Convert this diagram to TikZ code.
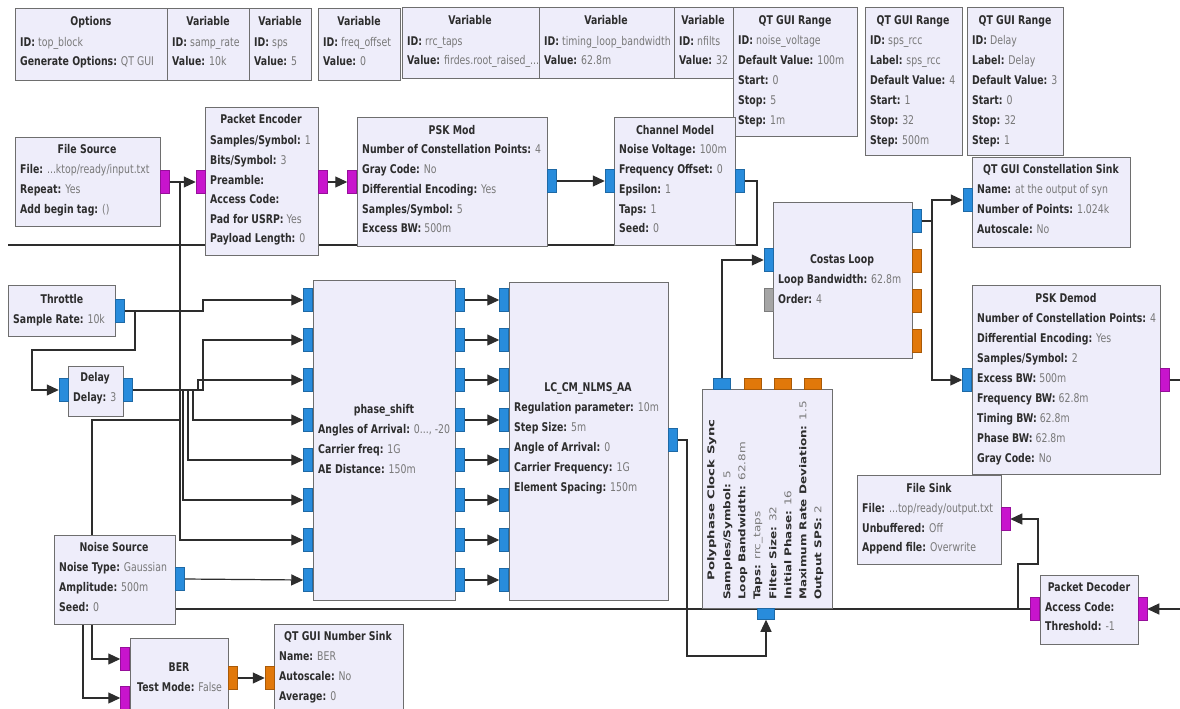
\documentclass[tikz,border=0pt]{standalone}
\usepackage{fontspec}
\setmainfont{DejaVu Sans}
\usepackage{graphicx}
\usetikzlibrary{arrows.meta,calc}

\definecolor{blkfill}{RGB}{238,237,250}
\definecolor{blkline}{RGB}{110,110,110}
\definecolor{keyc}{RGB}{45,45,45}
\definecolor{valc}{RGB}{120,120,120}
\definecolor{pblue}{RGB}{40,140,220}
\definecolor{pmag}{RGB}{200,20,205}
\definecolor{porange}{RGB}{225,120,10}
\definecolor{pgray}{RGB}{165,165,165}
\definecolor{wirec}{RGB}{45,45,45}

\pgfdeclarelayer{wires}
\pgfsetlayers{wires,main}

% narrow horizontal text, flattened rotated text
\newcommand\sq[1]{\scalebox{0.78}[1]{#1}}
\newcommand\sqv[1]{\scalebox{1}[0.78]{#1}}

\tikzset{
  blk/.style={draw=blkline, fill=blkfill, line width=1.1pt, inner sep=0pt, anchor=north west},
  ttlst/.style={inner sep=0pt, text=keyc, font=\fontsize{12}{14}\selectfont\bfseries, text height=9pt, text depth=2.5pt},
  prmst/.style={inner sep=0pt, anchor=west, text=valc, font=\fontsize{12}{14}\selectfont, text height=9pt, text depth=2.5pt},
  port/.style={draw=#1!75!black, fill=#1, line width=0.5pt, inner sep=0pt, minimum width=9pt, minimum height=23pt},
  vport/.style={port=#1, minimum width=17pt, minimum height=11pt},
  wire/.style={draw=wirec, line width=1.2pt},
  arr/.style={wire, -{Triangle[length=12pt,width=11pt]}},
}

% block box: name, x1, y1, x2, y2 (y measured downwards)
\newcommand\blk[5]{%
  \pgfmathsetmacro\bw{#4-#2}\pgfmathsetmacro\bh{#5-#3}%
  \node[blk, minimum width=\bw pt, minimum height=\bh pt] (#1) at (#2,-#3) {};}
% title: name, x centre, y, text
\newcommand\ttl[4]{\node[ttlst] (#1) at (#2,-#3) {\sq{#4}};}
% parameter line: name, x left, y, key, value
\newcommand\prm[5]{\node[prmst] (#1) at (#2,-#3) {\sq{\textbf{\color{keyc}#4} #5}};}
% rotated parameter line: name, x, y bottom, key, value
\newcommand\vprm[5]{\node[prmst, rotate=90] (#1) at (#2,-#3) {\sqv{\textbf{\color{keyc}#4} #5}};}

\begin{document}
\begin{tikzpicture}[x=1pt,y=1pt]
\useasboundingbox (0,0) rectangle (1180,-709);
\begin{pgfonlayer}{wires}
  \fill[white] (0,0) rectangle (1180,-709);
\end{pgfonlayer}

% ---------------- variables and options ----------------
\blk{opt}{15}{8}{167}{80}
\ttl{optt}{91}{22}{Options}
\prm{opt1}{20}{43}{ID:}{top\_block}
\prm{opt2}{20}{62}{Generate Options:}{QT GUI}

\blk{vsr}{167}{8}{249}{80}
\ttl{vsrt}{208}{22}{Variable}
\prm{vsr1}{172}{43}{ID:}{samp\_rate}
\prm{vsr2}{172}{62}{Value:}{10k}

\blk{vsp}{249}{8}{311}{80}
\ttl{vspt}{280}{22}{Variable}
\prm{vsp1}{254}{43}{ID:}{sps}
\prm{vsp2}{254}{62}{Value:}{5}

\blk{vfo}{318}{8}{400}{80}
\ttl{vfot}{359}{22}{Variable}
\prm{vfo1}{323}{43}{ID:}{freq\_offset}
\prm{vfo2}{323}{62}{Value:}{0}

\blk{vrt}{402}{7}{539}{78}
\ttl{vrtt}{470}{21}{Variable}
\prm{vrt1}{407}{42}{ID:}{rrc\_taps}
\prm{vrt2}{407}{61}{Value:}{firdes.root\_raised\_...}

\blk{vtl}{539}{7}{674}{78}
\ttl{vtlt}{606}{21}{Variable}
\prm{vtl1}{544}{42}{ID:}{timing\_loop\_bandwidth}
\prm{vtl2}{544}{61}{Value:}{62.8m}

\blk{vnf}{674}{7}{733}{78}
\ttl{vnft}{703}{21}{Variable}
\prm{vnf1}{679}{42}{ID:}{nfilts}
\prm{vnf2}{679}{61}{Value:}{32}

\blk{rnv}{733}{7}{857}{136}
\ttl{rnvt}{795}{21}{QT GUI Range}
\prm{rnv1}{738}{41}{ID:}{noise\_voltage}
\prm{rnv2}{738}{61}{Default Value:}{100m}
\prm{rnv3}{738}{81}{Start:}{0}
\prm{rnv4}{738}{101}{Stop:}{5}
\prm{rnv5}{738}{121}{Step:}{1m}

\blk{rsr}{865}{7}{962}{155}
\ttl{rsrt}{913}{21}{QT GUI Range}
\prm{rsr1}{870}{41}{ID:}{sps\_rcc}
\prm{rsr2}{870}{61}{Label:}{sps\_rcc}
\prm{rsr3}{870}{81}{Default Value:}{4}
\prm{rsr4}{870}{101}{Start:}{1}
\prm{rsr5}{870}{121}{Stop:}{32}
\prm{rsr6}{870}{141}{Step:}{500m}

\blk{rdl}{967}{7}{1063}{155}
\ttl{rdlt}{1015}{21}{QT GUI Range}
\prm{rdl1}{972}{41}{ID:}{Delay}
\prm{rdl2}{972}{61}{Label:}{Delay}
\prm{rdl3}{972}{81}{Default Value:}{3}
\prm{rdl4}{972}{101}{Start:}{0}
\prm{rdl5}{972}{121}{Stop:}{32}
\prm{rdl6}{972}{141}{Step:}{1}

% ---------------- transmitter chain ----------------
\blk{fs}{15}{137}{160}{226}
\ttl{fst}{87}{150}{File Source}
\prm{fs1}{20}{170}{File:}{...ktop/ready/input.txt}
\prm{fs2}{20}{190}{Repeat:}{Yes}
\prm{fs3}{20}{210}{Add begin tag:}{()}
\node[port=pmag] (fso) at (165,-182) {};

\blk{pe}{205}{107}{318}{255}
\ttl{pet}{261}{120}{Packet Encoder}
\prm{pe1}{210}{141}{Samples/Symbol:}{1}
\prm{pe2}{210}{161}{Bits/Symbol:}{3}
\prm{pe3}{210}{181}{Preamble:}{}
\prm{pe4}{210}{200}{Access Code:}{}
\prm{pe5}{210}{220}{Pad for USRP:}{Yes}
\prm{pe6}{210}{239}{Payload Length:}{0}
\node[port=pmag] (pei) at (200.5,-182) {};
\node[port=pmag] (peo) at (322.5,-182) {};

\blk{pm}{357}{117}{547}{246}
\ttl{pmt}{452}{131}{PSK Mod}
\prm{pm1}{362}{150}{Number of Constellation Points:}{4}
\prm{pm2}{362}{170}{Gray Code:}{No}
\prm{pm3}{362}{190}{Differential Encoding:}{Yes}
\prm{pm4}{362}{210}{Samples/Symbol:}{5}
\prm{pm5}{362}{229}{Excess BW:}{500m}
\node[port=pmag] (pmi) at (352,-182) {};
\node[port=pblue] (pmo) at (551.5,-181) {};

\blk{ch}{614}{117}{735}{245}
\ttl{cht}{675}{131}{Channel Model}
\prm{ch1}{619}{150}{Noise Voltage:}{100m}
\prm{ch2}{619}{170}{Frequency Offset:}{0}
\prm{ch3}{619}{190}{Epsilon:}{1}
\prm{ch4}{619}{210}{Taps:}{1}
\prm{ch5}{619}{229}{Seed:}{0}
\node[port=pblue] (chi) at (609.5,-181) {};
\node[port=pblue] (cho) at (739.5,-181) {};

% ---------------- array front end ----------------
\blk{thr}{8}{285}{115}{336}
\ttl{thrt}{62}{300}{Throttle}
\prm{thr1}{13}{320}{Sample Rate:}{10k}
\node[port=pblue] (tho) at (120,-311) {};

\blk{dl}{68}{366}{123}{416}
\ttl{dlt}{95}{378}{Delay}
\prm{dl1}{73}{398}{Delay:}{3}
\node[port=pblue] (dli) at (63.5,-390) {};
\node[port=pblue] (dlo) at (128,-390) {};

\blk{ps}{313}{280}{455}{600}
\ttl{pst}{384}{410}{phase\_shift}
\prm{ps1}{318}{430}{Angles of Arrival:}{0..., -20}
\prm{ps2}{318}{450}{Carrier freq:}{1G}
\prm{ps3}{318}{470}{AE Distance:}{150m}

\blk{lc}{509}{282}{668}{600}
\ttl{lct}{588}{388}{LC\_CM\_NLMS\_AA}
\prm{lc1}{514}{408}{Regulation parameter:}{10m}
\prm{lc2}{514}{428}{Step Size:}{5m}
\prm{lc3}{514}{448}{Angle of Arrival:}{0}
\prm{lc4}{514}{468}{Carrier Frequency:}{1G}
\prm{lc5}{514}{488}{Element Spacing:}{150m}
\node[port=pblue] (lco) at (672.5,-440) {};

\foreach \k in {1,...,8}{
  \node[port=pblue] (psi\k) at (308,{-260-40*\k}) {};
  \node[port=pblue] (pso\k) at (460,{-260-40*\k}) {};
  \node[port=pblue] (lci\k) at (504,{-260-40*\k}) {};
}

\blk{ns}{54}{535}{175}{624}
\ttl{nst}{114}{548}{Noise Source}
\prm{ns1}{59}{568}{Noise Type:}{Gaussian}
\prm{ns2}{59}{588}{Amplitude:}{500m}
\prm{ns3}{59}{608}{Seed:}{0}
\node[port=pblue] (nso) at (179.5,-579) {};

\blk{ber}{130}{638}{228}{722}
\ttl{bert}{179}{668}{BER}
\prm{ber1}{137}{688}{Test Mode:}{False}
\node[port=pmag] (beri1) at (125,-659) {};
\node[port=pmag] (beri2) at (125,-698) {};
\node[port=porange] (bero) at (233,-678) {};

\blk{nb}{274}{624}{403}{722}
\ttl{nbt}{338}{637}{QT GUI Number Sink}
\prm{nb1}{279}{657}{Name:}{BER}
\prm{nb2}{279}{677}{Autoscale:}{No}
\prm{nb3}{279}{697}{Average:}{0}
\node[port=porange] (nbi) at (269.5,-678) {};

% ---------------- receiver ----------------
\blk{pc}{702}{389}{832}{608}
\node[ttlst, rotate=90] (pct) at (711,-500) {\scalebox{1.1}[0.78]{Polyphase Clock Sync}};
\vprm{pc1}{727}{600}{Samples/Symbol:}{5}
\vprm{pc2}{742}{600}{Loop Bandwidth:}{62.8m}
\vprm{pc3}{757}{600}{Taps:}{rrc\_taps}
\vprm{pc4}{773}{600}{Filter Size:}{32}
\vprm{pc5}{788}{600}{Initial Phase:}{16}
\vprm{pc6}{803}{600}{Maximum Rate Deviation:}{1.5}
\vprm{pc7}{818}{600}{Output SPS:}{2}
\node[vport=pblue] (pco) at (722,-383.5) {};
\node[vport=porange] (pcx1) at (752.5,-383.5) {};
\node[vport=porange] (pcx2) at (782.5,-383.5) {};
\node[vport=porange] (pcx3) at (812.5,-383.5) {};
\node[vport=pblue] (pci) at (766,-614) {};

\blk{cs}{773}{202}{912}{358}
\ttl{cst}{842}{260}{Costas Loop}
\prm{cs1}{778}{280}{Loop Bandwidth:}{62.8m}
\prm{cs2}{778}{300}{Order:}{4}
\node[port=pblue] (csi) at (768.5,-260) {};
\node[port=pgray] (csg) at (768.5,-300) {};
\node[port=pblue] (cso) at (916.5,-221) {};
\node[port=porange] (csx1) at (916.5,-261) {};
\node[port=porange] (csx2) at (916.5,-301) {};
\node[port=porange] (csx3) at (916.5,-341) {};

\blk{cn}{972}{157}{1130}{247}
\ttl{cnt}{1051}{170}{QT GUI Constellation Sink}
\prm{cn1}{977}{190}{Name:}{at the output of syn}
\prm{cn2}{977}{210}{Number of Points:}{1.024k}
\prm{cn3}{977}{230}{Autoscale:}{No}
\node[port=pblue] (cni) at (967.5,-200) {};

\blk{pd}{972}{285}{1160}{474}
\ttl{pdt}{1066}{299}{PSK Demod}
\prm{pd1}{977}{319}{Number of Constellation Points:}{4}
\prm{pd2}{977}{339}{Differential Encoding:}{Yes}
\prm{pd3}{977}{359}{Samples/Symbol:}{2}
\prm{pd4}{977}{379}{Excess BW:}{500m}
\prm{pd5}{977}{399}{Frequency BW:}{62.8m}
\prm{pd6}{977}{419}{Timing BW:}{62.8m}
\prm{pd7}{977}{439}{Phase BW:}{62.8m}
\prm{pd8}{977}{459}{Gray Code:}{No}
\node[port=pblue] (pdi) at (967,-380) {};
\node[port=pmag] (pdo) at (1164.5,-380) {};

\blk{fk}{857}{475}{1001}{564}
\ttl{fkt}{929}{489}{File Sink}
\prm{fk1}{862}{509}{File:}{...top/ready/output.txt}
\prm{fk2}{862}{529}{Unbuffered:}{Off}
\prm{fk3}{862}{548}{Append file:}{Overwrite}
\node[port=pmag] (fki) at (1005.5,-519) {};

\blk{dc}{1040}{575}{1138}{644}
\ttl{dct}{1089}{588}{Packet Decoder}
\prm{dc1}{1045}{608}{Access Code:}{}
\prm{dc2}{1045}{627}{Threshold:}{-1}
\node[port=pmag] (dco) at (1035,-609) {};
\node[port=pmag] (dci) at (1142.5,-609) {};

% ---------------- connections ----------------
\begin{pgfonlayer}{wires}
  % file source to encoder, BER and array input 7
  \coordinate (j1) at (180,-182);
  \coordinate (j2) at (180,-420);
  \coordinate (b1) at (92,-420);
  \draw[arr] (fso.east) -- (pei.west);
  \draw[arr] (j1) |- (psi7.west);
  \draw[arr] (j2) -- (b1) |- (beri1.west);

  \draw[arr] (peo.east) -- (pmi.west);
  \draw[arr] (pmo.east) -- (chi.west);

  % channel output runs back towards the left
  \coordinate (h1) at (757,-181);
  \coordinate (h2) at (757,-245);
  \coordinate (h3) at (8,-245);
  \draw[wire] (cho.east) -- (h1) -- (h2) -- (h3);

  % throttle output
  \coordinate (t1) at (203,-311);
  \coordinate (t2) at (135,-311);
  \coordinate (t3) at (135,-350);
  \coordinate (t4) at (32,-350);
  \draw[arr] (tho.east) -- (t1) |- (psi1.west);
  \draw[arr] (t2) -- (t3) -- (t4) |- (dli.west);

  % delay output fans out to inputs 2..6
  \coordinate (d1) at (203,-390);
  \coordinate (d2) at (198,-390);
  \coordinate (d3) at (193,-390);
  \coordinate (d4) at (188,-390);
  \coordinate (d5) at (183,-390);
  \draw[arr] (dlo.east) -- (d1) |- (psi2.west);
  \draw[arr] (d2) |- (psi3.west);
  \draw[arr] (d3) |- (psi4.west);
  \draw[arr] (d4) |- (psi5.west);
  \draw[arr] (d5) |- (psi6.west);

  \draw[arr] (nso.east) -- (psi8.west);

  \foreach \k in {1,...,8}{
    \draw[arr] (pso\k.east) -- (lci\k.west);
  }

  % array output to clock recovery
  \coordinate (l1) at (687,-440);
  \coordinate (l2) at (687,-656);
  \draw[arr] (lco.east) -- (l1) -- (l2) -| (pci.south);

  \draw[arr] (pco.north) |- (csi.west);

  \coordinate (c1) at (932,-221);
  \draw[arr] (cso.east) -- (c1) |- (cni.west);
  \draw[arr] (c1) |- (pdi.west);

  \coordinate (e1) at (1180,-380);
  \coordinate (e2) at (1180,-609);
  \draw[wire] (pdo.east) -- (e1);
  \draw[arr] (e2) -- (dci.east);

  % decoder output to file sink and BER
  \coordinate (k1) at (1018,-609);
  \coordinate (k2) at (1018,-564);
  \coordinate (k3) at (1038,-564);
  \coordinate (k4) at (83,-609);
  \draw[arr] (dco.west) -- (k1) -- (k2) -- (k3) |- (fki.east);
  \draw[arr] (k1) -- (k4) |- (beri2.west);

  \draw[arr] (bero.east) -- (nbi.west);
\end{pgfonlayer}
\end{tikzpicture}
\end{document}
